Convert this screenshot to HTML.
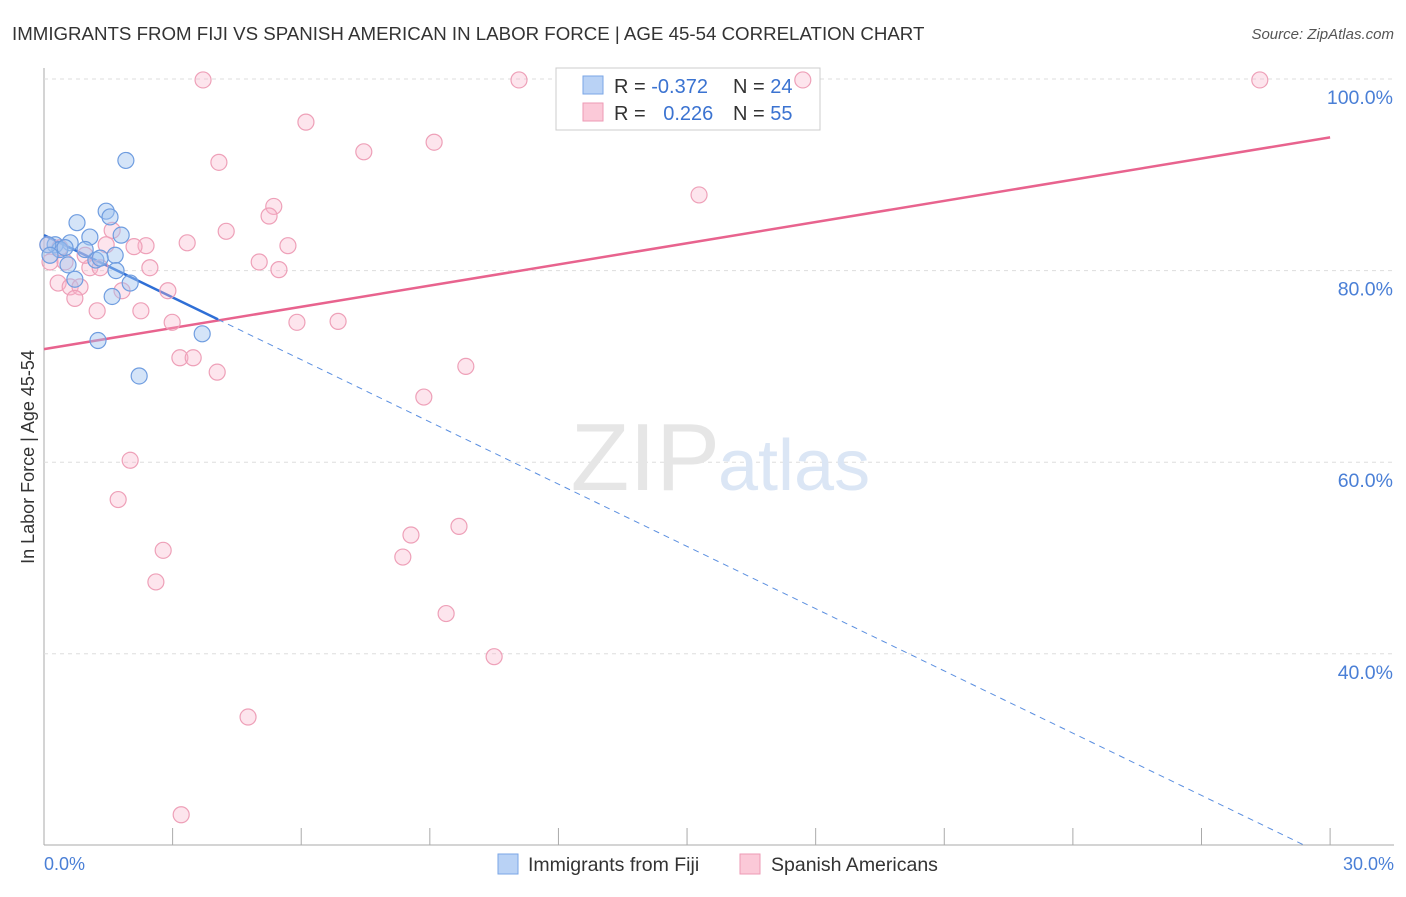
<!DOCTYPE html>
<html><head><meta charset="utf-8"><style>
body{margin:0;background:#fff;font-family:"Liberation Sans",sans-serif;}
svg text{font-family:"Liberation Sans",sans-serif;}
</style></head><body>
<svg width="1406" height="892" xmlns="http://www.w3.org/2000/svg">
<text x="12" y="40" font-size="18.7" fill="#333">IMMIGRANTS FROM FIJI VS SPANISH AMERICAN IN LABOR FORCE | AGE 45-54 CORRELATION CHART</text>
<text x="1394" y="39" font-size="15" fill="#555" font-style="italic" text-anchor="end">Source: ZipAtlas.com</text>
<g id="grid"></g>
<text x="720" y="490" font-size="96" fill="#e6e6e6" font-family="Liberation Serif" text-anchor="end">ZIP</text>
<text x="718" y="490" font-size="72" fill="#dbe6f5">atlas</text>
<g>
<rect x="556" y="68" width="264" height="62" fill="#fff" stroke="#ccc"/>
<rect x="583" y="76" width="20" height="18" fill="#b9d2f5" stroke="#7aa6e6"/>
<rect x="583" y="103" width="20" height="18" fill="#fbc9d8" stroke="#ee9ab5"/>
<text x="614" y="93" font-size="20" fill="#333">R = <tspan fill="#3b73d1">-0.372</tspan></text>
<text x="733" y="93" font-size="20" fill="#333">N = <tspan fill="#3b73d1">24</tspan></text>
<text x="614" y="120" font-size="20" fill="#333">R = <tspan fill="#3b73d1" dx="12">0.226</tspan></text>
<text x="733" y="120" font-size="20" fill="#333">N = <tspan fill="#3b73d1">55</tspan></text>
</g>
<g id="lines"></g>
<g id="points"></g>
<text transform="translate(34,457) rotate(-90)" font-size="18" fill="#333" text-anchor="middle">In Labor Force | Age 45-54</text>
<text x="44" y="870" font-size="18" fill="#4a7fd6">0.0%</text>
<text x="1394" y="870" font-size="18" fill="#4a7fd6" text-anchor="end">30.0%</text>
<g>
<rect x="498" y="854" width="20" height="20" fill="#b9d2f5" stroke="#7aa6e6"/>
<text x="528" y="871" font-size="19.5" fill="#333">Immigrants from Fiji</text>
<rect x="740" y="854" width="20" height="20" fill="#fbc9d8" stroke="#ee9ab5"/>
<text x="771" y="871" font-size="19.5" fill="#333">Spanish Americans</text>
</g>
</svg>
<script>
const yTicks=[100,80,60,40];
const yTickLabels=["100.0%","80.0%","60.0%","40.0%"];
const xTicks=[0,3,6,9,12,15,18,21,24,27,30];
const fijiX=[1.91,0.77,1.45,1.54,1.07,1.80,0.61,0.26,0.37,0.09,1.66,1.21,0.56,1.68,0.72,2.01,1.59,1.26,2.22,3.69,0.14,0.49,0.96,1.31];
const fijiY=[91.5,85.0,86.2,85.6,83.5,83.7,82.9,82.7,82.2,82.7,81.6,81.1,80.6,80.0,79.1,78.7,77.3,72.7,69.0,73.4,81.6,82.4,82.2,81.3];
const spanX=[3.71,11.08,17.70,28.36,6.11,9.10,7.46,4.08,15.28,5.36,5.25,4.25,1.59,2.38,3.34,2.10,1.45,5.69,5.02,5.48,0.49,1.07,1.31,0.33,0.61,0.84,1.82,2.89,0.72,1.24,2.26,2.99,5.90,6.86,3.17,3.48,4.04,9.84,8.86,2.01,1.73,9.68,8.56,8.37,2.78,2.61,9.38,10.50,4.76,3.20,0.14,0.09,0.37,0.96,2.47];
const spanY=[99.9,99.9,99.9,99.9,95.5,93.4,92.4,91.3,87.9,86.7,85.7,84.1,84.2,82.6,82.9,82.5,82.7,82.6,80.9,80.1,80.9,80.3,80.3,78.7,78.3,78.3,77.9,77.9,77.1,75.8,75.8,74.6,74.6,74.7,70.9,70.9,69.4,70.0,66.8,60.2,56.1,53.3,52.4,50.1,50.8,47.5,44.2,39.7,33.4,23.2,80.9,82.7,82.4,81.6,80.3];
const fijiTrend=[83.7,-2.166];
const spanTrend=[71.8,0.737];
const fijiSolidEnd=4.06, fijiDashEnd=29.41;
const NS="http://www.w3.org/2000/svg";
const X=v=>44+v*42.87, Y=v=>79+(100-v)*9.58;
function mk(t,a,p){const e=document.createElementNS(NS,t);for(const k in a)e.setAttribute(k,a[k]);p.appendChild(e);return e;}
const grid=document.getElementById('grid');
mk('line',{x1:44,y1:68,x2:44,y2:845,stroke:'#aaa','stroke-width':1},grid);
mk('line',{x1:44,y1:845,x2:1394,y2:845,stroke:'#aaa','stroke-width':1},grid);
yTicks.forEach((v,i)=>{
 const l=mk('line',{x1:44,y1:Y(v),x2:1394,y2:Y(v),stroke:'#ddd','stroke-dasharray':'4,4'},grid);
 
 
 const t=mk('text',{x:1393,y:Y(v)+25,'font-size':19.5,fill:'#4a7fd6','text-anchor':'end'},grid);
 t.textContent=yTickLabels[i];
 
 
});
xTicks.forEach(v=>{
 const l=mk('line',{x1:X(v),y1:828,x2:X(v),y2:845,stroke:'#aaa'},grid);
 
 
});
const pts=document.getElementById('points');
spanX.forEach((x,i)=>{
 const c=mk('circle',{cx:X(x),cy:Y(spanY[i]),r:8,fill:'rgba(248,180,202,0.35)',stroke:'#eea0b8','stroke-width':1.2},pts);
 
 
});
fijiX.forEach((x,i)=>{
 const c=mk('circle',{cx:X(x),cy:Y(fijiY[i]),r:8,fill:'rgba(160,195,240,0.45)',stroke:'#6f9de0','stroke-width':1.2},pts);
 
 
});
const ln=document.getElementById('lines');
const f=x=>fijiTrend[0]+fijiTrend[1]*x, s=x=>spanTrend[0]+spanTrend[1]*x;
const a=mk('line',{x1:X(0),y1:Y(s(0)),x2:X(30),y2:Y(s(30)),stroke:'#e8638e','stroke-width':2.5},ln);


const b=mk('line',{x1:X(0),y1:Y(f(0)),x2:X(fijiSolidEnd),y2:Y(f(fijiSolidEnd)),stroke:'#2f6fd6','stroke-width':2.5},ln);


const d=mk('line',{x1:X(fijiSolidEnd),y1:Y(f(fijiSolidEnd)),x2:X(fijiDashEnd),y2:Y(f(fijiDashEnd)),stroke:'#5b8fe0','stroke-width':1,'stroke-dasharray':'6,5'},ln);


</script>
</body></html>
